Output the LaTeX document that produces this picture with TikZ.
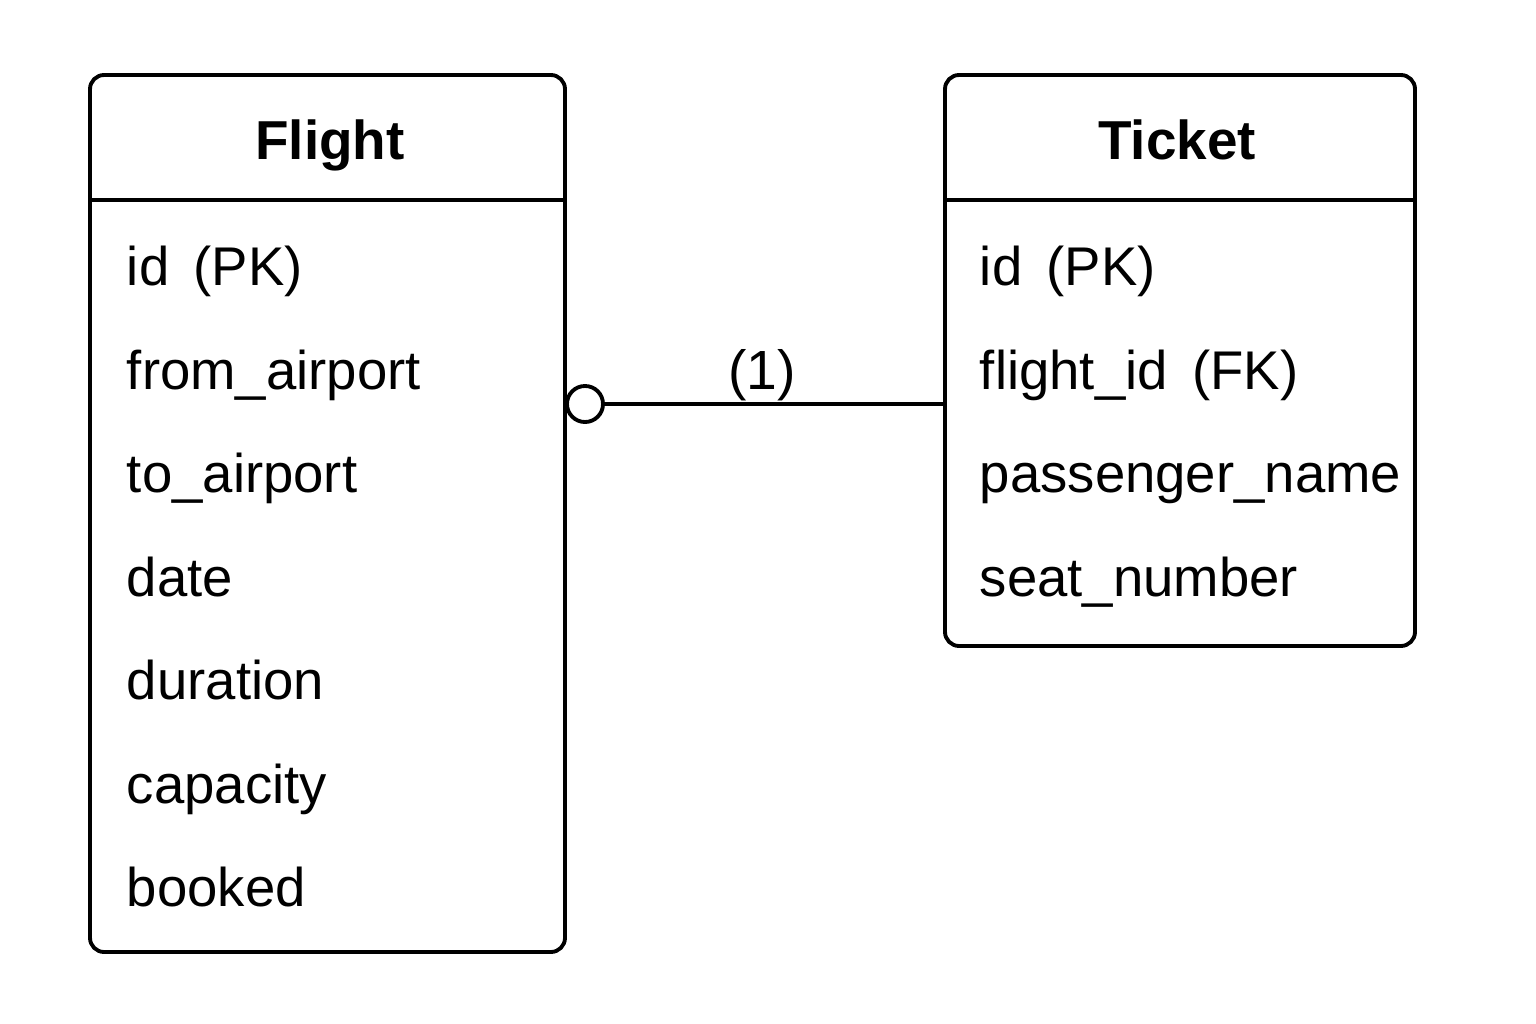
\documentclass[tikz,border=0pt]{standalone}
\usepackage{fontspec}
\setmainfont{Liberation Sans}
\usetikzlibrary{positioning,calc}
\begin{document}
\begin{tikzpicture}[x=0.01cm,y=-0.01cm,line width=1.1pt,
  box/.style={draw,rounded corners=4pt},
  head/.style={anchor=base,inner sep=0pt,font=\fontsize{15.6}{18}\selectfont\bfseries},
  row/.style={anchor=base west,inner sep=0pt,font=\fontsize{15.5}{18}\selectfont},
  lbl/.style={anchor=base,inner sep=0pt,font=\fontsize{15.7}{18}\selectfont}]
\useasboundingbox (0,0) rectangle (1536,1024);

% Flight table
\coordinate (fa) at (90,75);
\coordinate (fb) at (565,952);
\draw[box] (fa) rectangle (fb);
\draw (90,200) coordinate (fl) -- (565,200) coordinate (fr);
\node[head] (flight) at (330,159) {Flight};

\node[row] (f1) at (125,285) {id\hspace{0.45em}(PK)};
\node[row] (f2) at (125,389) {from\_airport};
\node[row] (f3) at (125,492) {to\_airport};
\node[row] (f4) at (125,596) {date};
\node[row] (f5) at (125,699) {duration};
\node[row] (f6) at (125,803) {capacity};
\node[row] (f7) at (125,906) {booked};

% Ticket table
\coordinate (ta) at (945,75);
\coordinate (tb) at (1415,646);
\draw[box] (ta) rectangle (tb);
\draw (945,200) coordinate (tl) -- (1415,200) coordinate (tr);
\node[head] (ticket) at (1177,159) {Ticket};

\node[row] (t1) at (978,285) {id\hspace{0.45em}(PK)};
\node[row] (t2) at (978,389) {flight\_id\hspace{0.45em}(FK)};
\node[row] (t3) at (978,492) {passenger\_name};
\node[row] (t4) at (978,596) {seat\_number};

% relation
\node[circle,draw,fill=white,minimum size=0.36cm,inner sep=0pt] (zero) at (585,404) {};
\coordinate (tw) at (945,404);
\draw (zero) -- (tw);
\node[lbl] (one) at (762,389) {(1)};

\end{tikzpicture}
\end{document}
